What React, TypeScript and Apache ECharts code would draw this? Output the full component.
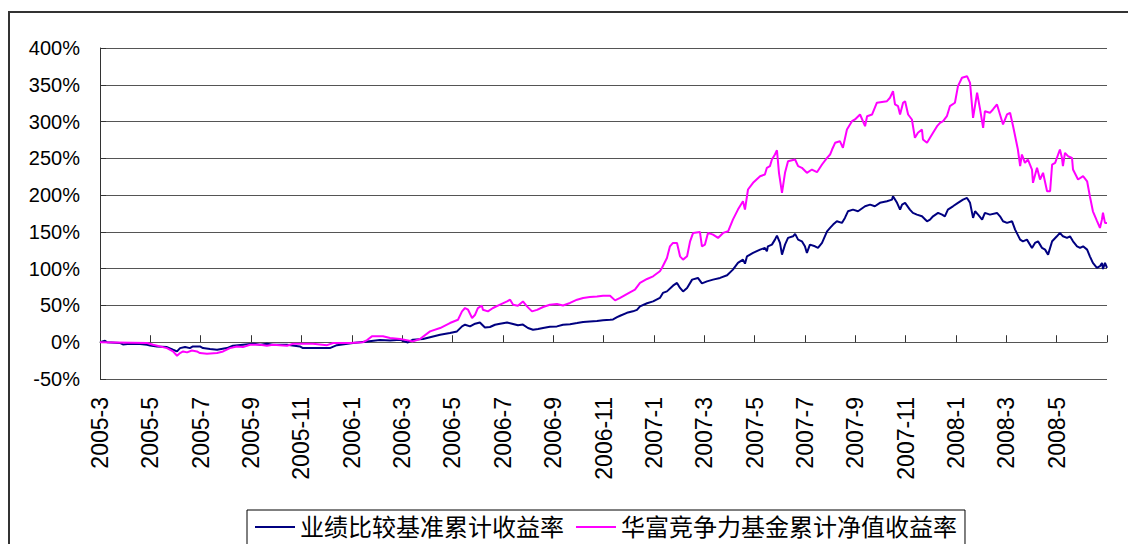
import React, { useEffect, useRef } from 'react';
import * as echarts from 'echarts';

// x values are months elapsed since 2005-03 (0 = 2005-3, 40 = 2008-7)
const tickLabels = [
  '2005-3', '2005-5', '2005-7', '2005-9', '2005-11',
  '2006-1', '2006-3', '2006-5', '2006-7', '2006-9', '2006-11',
  '2007-1', '2007-3', '2007-5', '2007-7', '2007-9', '2007-11',
  '2008-1', '2008-3', '2008-5',
];

const benchmarkName = '业绩比较基准累计收益率';
const fundName = '华富竞争力基金累计净值收益率';

const benchmarkMonths = [
  0, 0.20, 0.28, 0.79, 0.91, 1.19, 1.59, 1.87, 1.99, 2.26,
  2.66, 2.90, 3.06, 3.18, 3.38, 3.57, 3.69, 3.97, 4.09, 4.37,
  4.65, 5.04, 5.28, 5.68, 6.08, 6.36, 6.63, 6.87, 7.43, 7.94,
  8.06, 9.13, 9.41, 10.05, 10.61, 11.12, 11.52, 11.92, 12.23, 12.43,
  12.83, 13.23, 13.51, 13.90, 14.18, 14.38, 14.50, 14.70, 14.90, 15.09,
  15.29, 15.49, 15.69, 15.89, 16.17, 16.37, 16.60, 16.80, 17.00, 17.20,
  17.40, 17.60, 17.87, 18.15, 18.39, 18.67, 18.95, 19.19, 19.46, 19.74,
  19.98, 20.26, 20.38, 20.54, 20.66, 20.93, 21.17, 21.33, 21.45, 21.73,
  21.97, 22.24, 22.36, 22.52, 22.76, 22.92, 23.04, 23.16, 23.32, 23.52,
  23.75, 23.91, 24.11, 24.35, 24.63, 24.91, 25.14, 25.34, 25.54, 25.62,
  25.70, 25.94, 26.22, 26.41, 26.49, 26.53, 26.69, 26.81, 26.89, 27.01,
  27.09, 27.21, 27.33, 27.53, 27.61, 27.73, 27.88, 28.00, 28.08, 28.20,
  28.40, 28.52, 28.68, 28.88, 29.00, 29.12, 29.27, 29.47, 29.59, 29.71,
  29.91, 30.11, 30.39, 30.59, 30.78, 30.98, 31.26, 31.46, 31.50, 31.66,
  31.78, 31.86, 31.98, 32.17, 32.29, 32.45, 32.65, 32.85, 32.97, 33.09,
  33.29, 33.45, 33.56, 33.68, 33.88, 34.08, 34.28, 34.44, 34.56, 34.68,
  34.76, 34.88, 35.04, 35.15, 35.35, 35.63, 35.75, 35.87, 36.03, 36.23,
  36.35, 36.55, 36.66, 36.82, 37.02, 37.14, 37.26, 37.34, 37.42, 37.54,
  37.66, 37.82, 38.01, 38.13, 38.25, 38.41, 38.53, 38.65, 38.81, 38.93,
  39.05, 39.21, 39.32, 39.44, 39.60, 39.72, 39.80, 39.84, 39.92, 40.00,
];

const benchmarkValues = [
  0, 2, 0, -1, -3, -2, -2.5, -3.4, -4.4, -5.7,
  -6.6, -10.2, -12.5, -8, -6.6, -8, -5.7, -5.7, -8, -9.3,
  -10.2, -8, -4.8, -3.4, -2, -3.4, -2, -3.4, -3.4, -5.7,
  -8, -8, -4, -1, 1, 3, 2.5, 3.4, -0.3, 3.4,
  4.4, 7.9, 10.2, 12.5, 14.7, 21.5, 23.8, 21.5, 25.2, 26.9,
  20, 20.7, 23.8, 25.2, 26.9, 25.2, 23, 24, 19.3, 17,
  18, 19.3, 21, 21.5, 23.8, 24.5, 26, 27.5, 28.3, 29,
  30, 30.5, 31, 34, 36, 40, 42, 44, 48.7, 53,
  55.5, 60.2, 67, 69.1, 76.9, 80.6, 73.8, 69.1, 73.8, 85.1,
  87.4, 80, 82.7, 85.1, 87.4, 91, 98.7, 107.8, 112.3, 106.8,
  116.8, 121.4, 125.9, 128.2, 123.6, 130.4, 132.7, 139.5, 144.9, 135,
  119.1, 132.7, 141.8, 144, 147.3, 139.5, 137.2, 130.4, 121.4, 132.7,
  130.4, 128.2, 135, 150.8, 155.4, 159.9, 164.4, 162.2, 169, 178,
  180.3, 178, 184.8, 187.1, 184.8, 189.5, 191.6, 193.9, 198.4, 189.5,
  180.3, 187.1, 189.5, 180.3, 175.8, 173.5, 171.2, 164.4, 166.7, 171.2,
  175.8, 173.5, 171.2, 180.3, 184.8, 189.5, 193.9, 196.2, 189.5, 169,
  178, 173.5, 166.7, 175.8, 173.5, 175.8, 171.2, 164.4, 162.2, 164.4,
  153.1, 139.5, 137.2, 139.5, 128.2, 135, 137.2, 132.7, 128.2, 125.9,
  119.1, 137.2, 144, 148.6, 144, 141.8, 144, 137.2, 130.4, 128.2,
  130.4, 125.9, 116.8, 107.8, 101, 103.3, 107.8, 99.6, 107.8, 101,
];

const fundPoints: [number, number][] = [
  [0, 0], [1.87, -1], [2.11, -3.4], [2.66, -8], [2.90, -12.5], [3.06, -18.4],
  [3.18, -14.7], [3.30, -12.5], [3.46, -13.8], [3.65, -11.2], [3.85, -12.5],
  [3.97, -14.7], [4.25, -15.7], [4.65, -14.7], [4.89, -12.5], [5.16, -8],
  [5.44, -5.7], [5.68, -6.6], [5.96, -3.4], [6.36, -3.4], [6.63, -4.8],
  [6.87, -3.4], [7.43, -4.8], [7.67, -2], [7.94, -2], [8.46, -2], [9.02, -4],
  [9.26, -1], [9.93, -1], [10.45, 0], [10.61, 3], [10.80, 8], [11.24, 8],
  [11.52, 5.7], [11.92, 4.4], [12.23, 2.5], [12.43, 1.1], [12.71, 4.4],
  [13.11, 14.7], [13.51, 19.3], [13.90, 26.1], [14.22, 30.6], [14.38, 41.9],
  [14.50, 46.5], [14.62, 44.2], [14.78, 32.9], [14.90, 37.4], [15.01, 46.5],
  [15.17, 49.7], [15.21, 44.2], [15.41, 41.9], [15.61, 46.5], [15.89, 51],
  [16.17, 55.5], [16.29, 57.8], [16.41, 51], [16.60, 49.7], [16.80, 55.5],
  [16.96, 48.7], [17.16, 41.9], [17.36, 44], [17.60, 47.9], [17.87, 51],
  [18.15, 52], [18.39, 50], [18.67, 53.4], [18.95, 57.8], [19.19, 60.2],
  [19.46, 61.5], [19.74, 62.3], [19.98, 63.3], [20.26, 63.3], [20.46, 56.9],
  [20.66, 60.2], [21.05, 67.8], [21.25, 71.5], [21.45, 80.6], [21.73, 86],
  [21.97, 89.6], [22.24, 96.4], [22.32, 101], [22.52, 114.6], [22.64, 130.4],
  [22.76, 135], [22.92, 135], [23.04, 116.8], [23.16, 112.3], [23.32, 116.8],
  [23.44, 137.2], [23.56, 148.6], [23.83, 150], [23.91, 130.4], [24.03, 132.7],
  [24.15, 148.6], [24.35, 146.3], [24.55, 141.8], [24.75, 148.6], [24.95, 150.8],
  [25.14, 166.7], [25.34, 180.3], [25.54, 191.6], [25.62, 180.3], [25.74, 207.6],
  [25.94, 216.7], [26.22, 225.7], [26.41, 228], [26.49, 237.1], [26.61, 239.3],
  [26.69, 248.4], [26.81, 255.2], [26.89, 261], [26.97, 230.3], [27.09, 203.1],
  [27.21, 230.3], [27.33, 246.1], [27.61, 248.4], [27.73, 239.3], [27.88, 237.1],
  [28.08, 230.3], [28.28, 234.8], [28.48, 231.1], [28.68, 241.6], [28.88, 250.7],
  [29.00, 255.2], [29.08, 262], [29.20, 271.1], [29.39, 273.3], [29.51, 264.3],
  [29.67, 289.2], [29.87, 300.5], [29.99, 302.8], [30.19, 309.6], [30.39, 293.7],
  [30.47, 307.3], [30.67, 309.6], [30.86, 325.6], [31.26, 327.7], [31.38, 332.4],
  [31.50, 341.3], [31.58, 323.2], [31.70, 320.9], [31.78, 309.6], [31.90, 325.6],
  [31.98, 327.7], [32.10, 309.6], [32.25, 302.8], [32.37, 277.9], [32.49, 284.7],
  [32.65, 289.2], [32.69, 275.6], [32.85, 271.1], [32.97, 277.9], [33.09, 284.7],
  [33.25, 293.7], [33.37, 298.3], [33.49, 300.5], [33.64, 307.3], [33.76, 320.9],
  [33.96, 325.6], [34.08, 348.1], [34.24, 359.6], [34.44, 361.7], [34.56, 352.7],
  [34.68, 305.1], [34.84, 339.2], [34.96, 316.4], [35.08, 291.5], [35.15, 314.1],
  [35.35, 311.9], [35.47, 316.4], [35.63, 323.2], [35.75, 309.6], [35.87, 296],
  [36.03, 309.6], [36.15, 311.9], [36.27, 293.7], [36.46, 262], [36.55, 239.3],
  [36.62, 255.2], [36.74, 243.9], [36.86, 248.4], [37.02, 234.8], [37.06, 216.7],
  [37.22, 237.1], [37.34, 221.2], [37.46, 230.3], [37.62, 205.2], [37.74, 205.2],
  [37.82, 241.6], [37.94, 243.9], [38.13, 262], [38.21, 250.7], [38.25, 239.3],
  [38.33, 257.5], [38.45, 252.9], [38.61, 250.7], [38.65, 234.8], [38.85, 221.2],
  [39.05, 225.7], [39.21, 218.8], [39.32, 198.4], [39.44, 178], [39.60, 165],
  [39.72, 155.4], [39.80, 167], [39.84, 176], [39.92, 162.2], [40.00, 162.2],
];

const FONT = "'Liberation Sans', Arial, 'Noto Sans CJK SC', sans-serif";

export default function App() {
  const ref = useRef<HTMLDivElement>(null);

  useEffect(() => {
    if (!ref.current) return;
    const chart = echarts.init(ref.current, null, { renderer: 'svg' });
    const benchmarkData = benchmarkMonths.map((m, i) => [m, benchmarkValues[i]]);

    chart.setOption({
      animation: false,
      backgroundColor: '#ffffff',
      textStyle: { fontFamily: FONT },
      graphic: [
        {
          type: 'rect',
          silent: true,
          z: -10,
          shape: { x: 9, y: 12, width: 1200, height: 600 },
          style: { fill: 'none', stroke: '#333333', lineWidth: 2 },
        },
      ],
      grid: { left: 100, top: 48, right: 21, bottom: 165, containLabel: false },
      legend: {
        left: 247,
        top: 510,
        orient: 'horizontal',
        icon: 'rect',
        itemWidth: 40,
        itemHeight: 2,
        itemGap: 12,
        padding: [5, 8, 20, 8],
        borderColor: '#000',
        borderWidth: 1,
        textStyle: { fontSize: 24, color: '#000', fontFamily: FONT },
        data: [benchmarkName, fundName],
      },
      xAxis: [
        {
          type: 'value',
          min: 0,
          max: 40,
          interval: 2,
          position: 'bottom',
          axisLine: { show: false, onZero: false },
          axisTick: { show: false },
          splitLine: { show: false },
          axisLabel: {
            rotate: 90,
            margin: 18,
            fontSize: 23,
            color: '#000',
            fontFamily: FONT,
            showMinLabel: true,
            formatter: (v: number) => tickLabels[Math.round(v / 2)] ?? '',
          },
        },
        {
          type: 'value',
          min: 0,
          max: 40,
          interval: 2,
          position: 'bottom',
          axisLine: { show: true, onZero: true, lineStyle: { color: '#555', width: 1 } },
          axisTick: { show: true, inside: true, length: 7, lineStyle: { color: '#333' } },
          axisLabel: { show: false },
          splitLine: { show: false },
        },
      ],
      yAxis: {
        type: 'value',
        min: -50,
        max: 400,
        interval: 50,
        axisLine: { show: true, lineStyle: { color: '#333', width: 1 } },
        axisTick: { show: true, inside: true, length: 6, lineStyle: { color: '#333' } },
        axisLabel: {
          formatter: '{value}%',
          fontSize: 20,
          color: '#000',
          margin: 20,
          fontFamily: FONT,
        },
        splitLine: { show: true, lineStyle: { color: '#555', width: 1 } },
      },
      series: [
        {
          name: benchmarkName,
          type: 'line',
          xAxisIndex: 0,
          symbol: 'none',
          data: benchmarkData,
          lineStyle: { color: '#000080', width: 2 },
          itemStyle: { color: '#000080' },
        },
        {
          name: fundName,
          type: 'line',
          xAxisIndex: 0,
          symbol: 'none',
          data: fundPoints,
          lineStyle: { color: '#ff00ff', width: 2 },
          itemStyle: { color: '#ff00ff' },
        },
      ],
    });

    return () => chart.dispose();
  }, []);

  return (
    <div
      ref={ref}
      style={{ position: 'absolute', left: 0, top: 0, width: 1128, height: 544, background: '#fff' }}
    />
  );
}
